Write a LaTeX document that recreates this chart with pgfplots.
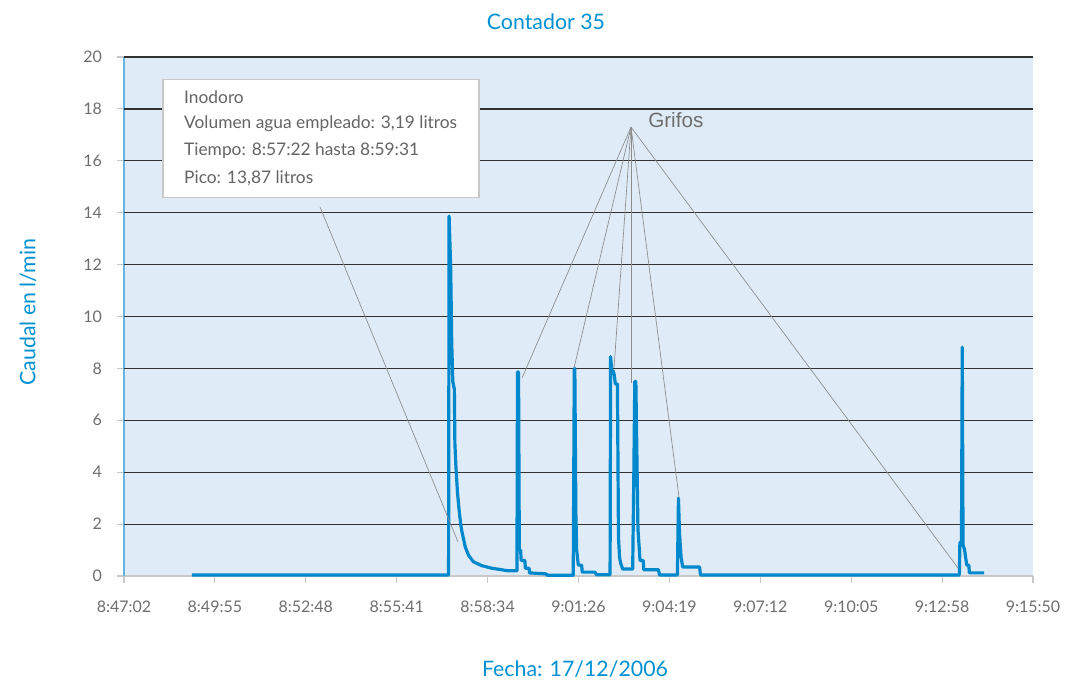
\documentclass[border=0pt]{standalone}
\usepackage{pgfplots}
\pgfplotsset{compat=1.18}
\usepackage{fontspec}
\setmainfont{Lato}
\newfontfamily\arialfont{Liberation Sans}
\definecolor{lineblue}{RGB}{0,136,204}
\definecolor{titleblue}{RGB}{0,145,210}
\definecolor{bgblue}{RGB}{223,235,247}
\definecolor{yaxisblue}{RGB}{100,180,225}
\definecolor{griddark}{RGB}{50,50,50}
\definecolor{axisgray}{RGB}{200,200,200}
\definecolor{ticktext}{RGB}{110,110,110}
\definecolor{annotgray}{RGB}{140,140,140}
\definecolor{boxtext}{RGB}{100,100,100}
\begin{document}
\begin{tikzpicture}
\useasboundingbox (-93pt,-83.25pt) rectangle (706.5pt,432pt);
\begin{axis}[
  at={(0pt,0pt)}, anchor=south west,
  width=681.75pt, height=389.25pt, scale only axis,
  xmin=0, xmax=1728, ymin=0, ymax=20,
  axis x line*=bottom, axis y line*=left,
  x axis line style={draw=axisgray, line width=0.8pt},
  y axis line style={draw=yaxisblue, line width=1.2pt},
  axis background/.style={fill=bgblue},
  xtick={0,172.8,345.6,518.4,691.2,864,1036.8,1209.6,1382.4,1555.2,1728},
  xticklabels={8:47:02,8:49:55,8:52:48,8:55:41,8:58:34,9:01:26,9:04:19,9:07:12,9:10:05,9:12:58,9:15:50},
  ytick={0,2,...,20},
  extra y ticks={2,4,...,20},
  extra y tick labels={},
  extra y tick style={grid=major, major tick length=0pt},
  grid style={draw=griddark, line width=0.9pt},
  tick align=outside,
  major tick length=5pt,
  tick style={draw=axisgray, line width=0.8pt},
  /pgf/number format/assume math mode=true,
  ticklabel style={font=\fontsize{12}{14}\selectfont, text=ticktext},
  xticklabel style={yshift=-10pt},
  yticklabel style={xshift=-8pt},
  clip=false,
]
\addplot[lineblue, line width=2.4pt, line join=round] coordinates {
(129,0.04)(617,0.04)(618,13.87)(621,11.9)(623,9.0)(625,7.5)(628,7.2)(629,5.1)
(631,4.2)(634,3.2)(637,2.55)(640,2.0)(643,1.65)(649,1.1)(655,0.8)(664,0.55)
(680,0.4)(699,0.3)(731,0.2)(747,0.2)(748,7.86)(750,7.86)(751.5,1.0)(754,1.0)
(755,0.6)(762,0.6)(763,0.3)(770,0.3)(771,0.12)(803,0.08)(804,0.03)(854,0.03)
(856,8.0)(857,8.0)(859,2.4)
(860.5,1.0)(863.6,0.42)(870,0.42)(871,0.15)(895,0.15)(898.5,0.05)(924,0.05)
(925,8.45)(928,7.8)(930,7.9)(932,7.75)(934,7.4)(938,7.4)(940,1.5)(942,0.73)
(944,0.5)(948,0.27)(967,0.27)(969,3.6)(971,7.5)(973,7.5)(977,1.8)(981,0.6)
(987,0.6)(988,0.24)(1016,0.24)(1018,0.04)(1052,0.04)(1054,3.0)(1056,1.65)
(1059,0.73)(1062,0.35)(1094,0.35)(1096,0.04)(1588,0.04)(1589,1.3)(1592,1.3)
(1593.5,8.82)(1595,1.2)(1598,1.0)(1602,0.42)(1606,0.42)(1607,0.12)(1635,0.12)
};
% Grifos annotation
\draw[annotgray, line width=0.5pt] (963.8,17.3) -- (756.6,7.63);
\draw[annotgray, line width=0.5pt] (963.8,17.3) -- (855.5,8.02);
\draw[annotgray, line width=0.5pt] (963.8,17.3) -- (931.5,8.02);
\draw[annotgray, line width=0.5pt] (963.8,17.3) -- (963.8,7.44);
\draw[annotgray, line width=0.5pt] (963.8,17.3) -- (1055,3.04);
\draw[annotgray, line width=0.5pt] (963.8,17.3) -- (1585.4,0.31);
\node[text=ticktext, font=\arialfont\fontsize{15.5}{17}\selectfont] at (1049,17.57) {Grifos};
% Inodoro annotation
\draw[annotgray, line width=0.5pt] (372.6,14.22) -- (635,1.31);
\draw[draw=axisgray, fill=white, line width=0.8pt] (74.1,19.15) rectangle (674.9,14.6);
\begin{scope}[every node/.style={anchor=west, text=boxtext, font=\fontsize{13}{15}\selectfont, inner sep=0pt}]
\node at (114,18.46) {Inodoro};
\node at (114,17.42) {Volumen agua empleado: 3,19 litros};
\node at (114,16.38) {Tiempo: 8:57:22 hasta 8:59:31};
\node at (114,15.34) {Pico: 13,87 litros};
\end{scope}
\end{axis}
\node[text=titleblue, font=\fontsize{16}{19}\selectfont] at (316.5pt,415.5pt) {Contador 35};
\node[text=titleblue, font=\fontsize{16}{19}\selectfont, rotate=90] at (-72pt,198pt) {Caudal en l/min};
\node[text=titleblue, font=\fontsize{16}{19}\selectfont] at (338.25pt,-69.75pt) {Fecha: 17/12/2006};
\end{tikzpicture}
\end{document}
